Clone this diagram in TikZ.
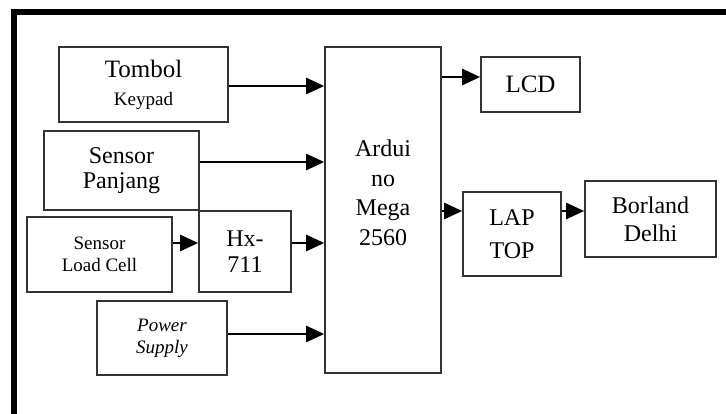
\documentclass[tikz,border=0pt]{standalone}
\usepackage{fontspec}
\setmainfont{Liberation Serif}
\usetikzlibrary{arrows.meta}
\begin{document}
\begin{tikzpicture}[x=1pt,y=-1pt,
  blk/.style={draw=black!80,line width=1.6pt,inner sep=0pt,align=center,
    font=\fontsize{24}{28}\selectfont},
  txt/.style={inner sep=0pt,align=center},
  arr/.style={line width=2.6pt,-{Triangle[length=18pt,width=16pt]}},
  frame/.style={line width=6pt,line cap=butt}]
\useasboundingbox (0,0) rectangle (726,414);
\fill[white] (0,0) rectangle (726,414);
\coordinate (fa) at (13.5,414);
\coordinate (fb) at (13.5,12);
\coordinate (fc) at (726,12);
\draw[frame] (fa) -- (fb) -- (fc);
\node[blk,minimum width=169pt,minimum height=75pt] (tombol) at (143.5,84.5)
  {{\fontsize{25}{21}\selectfont Tombol}\\{\fontsize{19}{21}\selectfont Keypad}};
\node[blk,minimum width=155pt,minimum height=79pt,font=\fontsize{24}{25}\selectfont] (panjang) at (121.5,170.5)
  {Sensor\\Panjang};
\node[blk,minimum width=145pt,minimum height=75pt,font=\fontsize{19}{22}\selectfont] (loadcell) at (99.5,254.5)
  {Sensor\\Load Cell};
\node[blk,minimum width=92pt,minimum height=81pt,font=\fontsize{24}{26}\selectfont] (hx) at (245,251.5)
  {Hx-\\711};
\node[blk,minimum width=130pt,minimum height=74pt,font=\fontsize{19}{22}\selectfont\itshape] (power) at (162,338)
  {Power\\Supply};
\node[blk,minimum width=116pt,minimum height=326pt] (arduino) at (383,210) {};
\node[txt,font=\fontsize{24}{29.5}\selectfont] (arduinolbl) at (383,193)
  {Ardui\\no\\Mega\\2560};
\node[blk,minimum width=99pt,minimum height=55pt,font=\fontsize{25}{28}\selectfont] (lcd) at (530.5,84.5)
  {LCD};
\node[blk,minimum width=98pt,minimum height=84pt,font=\fontsize{24}{33}\selectfont] (laptop) at (512,234)
  {LAP\\TOP};
\node[blk,minimum width=131pt,minimum height=76pt] (borland) at (650.5,219)
  {Borland\\Delhi};
\draw[arr] ([yshift=-1.5pt]tombol.east) -- ([yshift=-1.5pt]tombol.east -| arduino.west);
\draw[arr] ([yshift=8.5pt]panjang.east) -- ([yshift=8.5pt]panjang.east -| arduino.west);
\draw[arr] ([yshift=11.5pt]loadcell.east) -- ([yshift=11.5pt]loadcell.east -| hx.west);
\draw[arr] ([yshift=8.5pt]hx.east) -- ([yshift=8.5pt]hx.east -| arduino.west);
\draw[arr] ([yshift=4pt]power.east) -- ([yshift=4pt]power.east -| arduino.west);
\draw[arr] ([yshift=7.5pt]lcd.west -| arduino.east) -- ([yshift=7.5pt]lcd.west);
\draw[arr] ([yshift=23pt]laptop.west -| arduino.east) -- ([yshift=23pt]laptop.west);
\draw[arr] ([yshift=8pt]borland.west -| laptop.east) -- ([yshift=8pt]borland.west);
\end{tikzpicture}
\end{document}
